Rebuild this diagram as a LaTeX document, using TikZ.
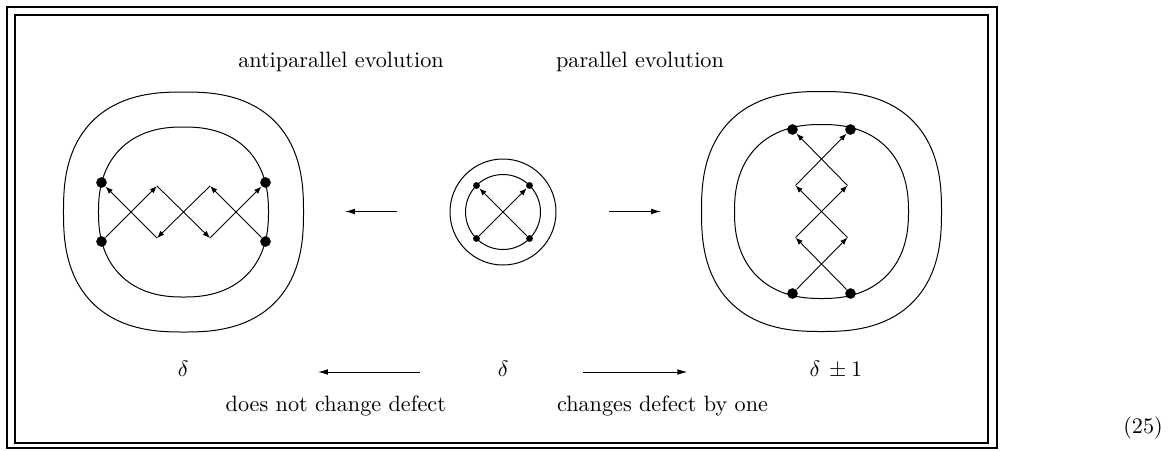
\documentclass[tikz,border=0pt]{standalone}
\usetikzlibrary{arrows.meta}
\tikzset{
  dotL/.style={circle,fill,inner sep=0pt,minimum size=4.8pt},
  dotS/.style={circle,fill,inner sep=0pt,minimum size=3.1pt},
  zig/.style={-{Latex[length=3.3pt,width=2.5pt]},line width=0.4pt},
  harr/.style={-{Latex[length=4.5pt,width=2.6pt]},line width=0.45pt},
  curve/.style={line width=0.45pt},
  lbl/.style={inner sep=0pt,anchor=base},
}
\newcommand{\mysquircle}[4]{\draw[curve] plot[domain=0.5:359.5,samples=360,variable=\t]
  ({#1+#3*sign(cos(\t))*pow(abs(cos(\t)),#4)},{#2+#3*sign(sin(\t))*pow(abs(sin(\t)),#4)}) -- cycle;}
\begin{document}
\begin{tikzpicture}[x=0.4505pt,y=-0.4505pt]
\useasboundingbox (0,0) rectangle (1176,450);
% frame
\draw[line width=0.95pt] (7,7) rectangle (997,448);
\draw[line width=0.75pt] (15,15) rectangle (988,443);
% left figure (antiparallel)
\mysquircle{183.5}{212}{120}{0.8}
\mysquircle{183.5}{212}{85}{0.86}
\node[dotL] (lTL) at (101.5,182.5) {};
\node[dotL] (lBL) at (101.5,241.5) {};
\node[dotL] (lTR) at (265.5,182.5) {};
\node[dotL] (lBR) at (265.5,241.5) {};
\coordinate (lT1) at (157,186);
\coordinate (lT2) at (210,186);
\coordinate (lB1) at (157,238);
\coordinate (lB2) at (210,238);
\draw[zig] (lBL) -- (lT1);
\draw[zig] (lT1) -- (lB2);
\draw[zig] (lB2) -- (lTR);
\draw[zig] (lBR) -- (lT2);
\draw[zig] (lT2) -- (lB1);
\draw[zig] (lB1) -- (lTL);
% middle figure
\draw[curve] (503,212) circle[radius=53];
\draw[curve] (503,212) circle[radius=37.5];
\node[dotS] (mTL) at (476.5,185.5) {};
\node[dotS] (mTR) at (529.5,185.5) {};
\node[dotS] (mBL) at (476.5,238.5) {};
\node[dotS] (mBR) at (529.5,238.5) {};
\draw[zig] (mBL) -- (mTR);
\draw[zig] (mBR) -- (mTL);
% right figure (parallel)
\mysquircle{821.5}{211.5}{120}{0.8}
\mysquircle{821.5}{211.5}{87}{0.86}
\node[dotL] (rTL) at (792.5,129.5) {};
\node[dotL] (rTR) at (850.5,129.5) {};
\node[dotL] (rBL) at (792.5,293.5) {};
\node[dotL] (rBR) at (850.5,293.5) {};
\coordinate (rU1) at (795.5,185.5);
\coordinate (rU2) at (847.5,185.5);
\coordinate (rD1) at (795.5,237.5);
\coordinate (rD2) at (847.5,237.5);
\draw[zig] (rBL) -- (rD2);
\draw[zig] (rD2) -- (rU1);
\draw[zig] (rU1) -- (rTR);
\draw[zig] (rBR) -- (rD1);
\draw[zig] (rD1) -- (rU2);
\draw[zig] (rU2) -- (rTL);
% middle arrows
\coordinate (aL1) at (397,211.5);
\coordinate (aL2) at (345,211.5);
\coordinate (aR1) at (609,211.5);
\coordinate (aR2) at (661,211.5);
\draw[harr] (aL1) -- (aL2);
\draw[harr] (aR1) -- (aR2);
% texts
\node[lbl] (tanti) at (341,67) {antiparallel evolution};
\node[lbl] (tpar) at (640,67) {parallel evolution};
\node[lbl] (dL) at (183.3,376) {$\delta$};
\node[lbl] (dM) at (503.3,376) {$\delta$};
\node[lbl] (dR) at (836,376) {$\delta\,\pm 1$};
\coordinate (bL1) at (420,372);
\coordinate (bL2) at (318,372);
\coordinate (bR1) at (583.3,372);
\coordinate (bR2) at (687.3,372);
\draw[harr] (bL1) -- (bL2);
\draw[harr] (bR1) -- (bR2);
\node[lbl] (tno) at (335.8,411) {does not change defect};
\node[lbl] (tby) at (662.5,411) {changes defect by one};
\node[lbl] (eq) at (1143,433) {(25)};
\end{tikzpicture}
\end{document}
